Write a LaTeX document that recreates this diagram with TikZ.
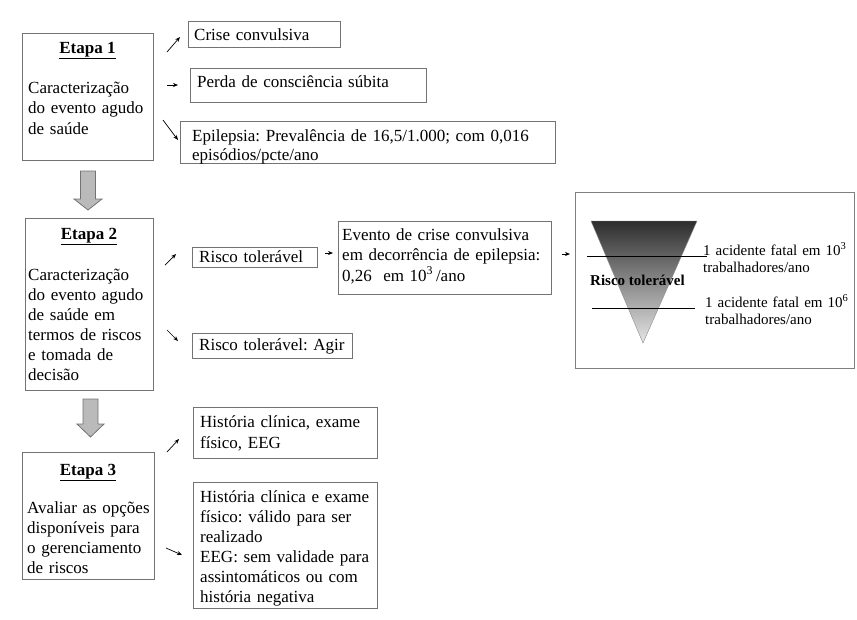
\documentclass[tikz,border=0pt]{standalone}
\usepackage{fontspec}
\setmainfont{Liberation Serif}
\usetikzlibrary{arrows.meta}
\frenchspacing
\tikzset{
  bx/.style={draw=black!55, line width=0.8pt, inner sep=0pt, anchor=north west, fill=white},
  txt/.style={anchor=base west, inner sep=0pt, align=left, text width=#1,
    font=\fontsize{17}{20.3}\selectfont},
  ttl/.style={anchor=base, inner sep=0pt, font=\fontsize{17}{20}\selectfont\bfseries},
  small/.style={anchor=base west, inner sep=0pt, align=left, text width=150pt,
    font=\fontsize{15}{17}\selectfont},
  sarr/.style={line width=0.7pt, -{Stealth[length=5pt,width=4pt]}},
  blk/.style={draw=black!55, fill=black!27, line width=0.8pt},
}
\begin{document}
\begin{tikzpicture}[x=1pt,y=-1pt]
\useasboundingbox (0,0) rectangle (857,619);
% ---------- Etapa 1 ----------
\node[bx, minimum width=131pt, minimum height=127pt] (e1) at (22,33) {};
\node[ttl] (e1h) at (87.5,53) {\underline{Etapa 1}};
\node[txt=125pt, font=\fontsize{17}{20.5}\selectfont] (e1t) at (28,93) {Caracterização\\do evento agudo\\de saúde};
\node[bx, minimum width=152pt, minimum height=26pt] (crise) at (188,21) {};
\node[txt=150pt] (crisetx) at (194,40) {Crise convulsiva};
\node[bx, minimum width=236pt, minimum height=34pt] (perda) at (190,68) {};
\node[txt=230pt] (perdatx) at (197,87) {Perda de consciência súbita};
\node[bx, minimum width=375pt, minimum height=42pt] (epil) at (180,121) {};
\node[txt=370pt, font=\fontsize{17}{19.5}\selectfont] (epiltx) at (192,141) {Epilepsia: Prevalência de 16,5/1.000; com 0,016\\episódios/pcte/ano};
\coordinate (c1a) at (167,52); \coordinate (c1b) at (180,37);
\coordinate (c2a) at (167,85); \coordinate (c2b) at (178,85);
\coordinate (c3a) at (163,120); \coordinate (c3b) at (178,140);
\draw[sarr] (c1a) -- (c1b);
\draw[sarr] (c2a) -- (c2b);
\draw[sarr] (c3a) -- (c3b);
% block arrow 1
\filldraw[blk] (80.5,171) -- (95.5,171) -- (95.5,199) -- (102,199) -- (88,210) -- (74,199) -- (80.5,199) -- cycle;
% ---------- Etapa 2 ----------
\node[bx, minimum width=128pt, minimum height=172pt] (e2) at (25,218) {};
\node[ttl] (e2h) at (89,239) {\underline{Etapa 2}};
\node[txt=125pt, font=\fontsize{17}{20}\selectfont] (e2t) at (28,280) {Caracterização\\do evento agudo\\de saúde em\\termos de riscos\\e tomada de\\decisão};
\node[bx, minimum width=125pt, minimum height=20pt] (risco) at (192,247) {};
\node[txt=120pt] (riscotx) at (199,262) {Risco tolerável};
\node[bx, minimum width=160pt, minimum height=25pt] (agir) at (192,333) {};
\node[txt=155pt] (agirtx) at (199,350) {Risco tolerável: Agir};
\node[bx, minimum width=213pt, minimum height=73pt] (evento) at (338,221) {};
\node[txt=210pt, font=\fontsize{17}{20.5}\selectfont] (eventotx) at (342,240) {Evento de crise convulsiva\\em decorrência de epilepsia:\\0,26\ \ em 10\textsuperscript{3}\,/ano};
\coordinate (c4a) at (165,265); \coordinate (c4b) at (176,254);
\coordinate (c5a) at (167,330); \coordinate (c5b) at (178,341);
\coordinate (c6a) at (325,253); \coordinate (c6b) at (333,253);
\coordinate (c7a) at (562,254); \coordinate (c7b) at (570,254);
\draw[sarr] (c4a) -- (c4b);
\draw[sarr] (c5a) -- (c5b);
\draw[sarr] (c6a) -- (c6b);
\draw[sarr] (c7a) -- (c7b);
% big risk box
\node[bx, minimum width=279pt, minimum height=176pt, draw=black!50] (big) at (575,192) {};
\shade[top color=black!82, bottom color=black!10] (591,221) -- (697,221) -- (643,343) -- cycle;
\draw[black!45, line width=0.4pt] (591,221) -- (697,221) -- (643,343) -- cycle;
\coordinate (l1a) at (587,256); \coordinate (l1b) at (707,256);
\coordinate (l2a) at (592,308); \coordinate (l2b) at (695,308);
\draw[line width=0.8pt] (l1a) -- (l1b);
\draw[line width=0.8pt] (l2a) -- (l2b);
\node[anchor=base west, inner sep=0pt, font=\fontsize{15}{17}\selectfont\bfseries] (rt) at (590,285) {Risco tolerável};
\node[small] (t1) at (703,255) {1 acidente fatal em 10\textsuperscript{3}\\trabalhadores/ano};
\node[small] (t2) at (705,307) {1 acidente fatal em 10\textsuperscript{6}\\trabalhadores/ano};
% block arrow 2
\filldraw[blk] (83,399) -- (98,399) -- (98,424) -- (104,424) -- (90.5,437) -- (77,424) -- (83,424) -- cycle;
% ---------- Etapa 3 ----------
\node[bx, minimum width=132pt, minimum height=127pt] (e3) at (22,452) {};
\node[ttl] (e3h) at (88,475) {\underline{Etapa 3}};
\node[txt=127pt, font=\fontsize{17}{20.3}\selectfont] (e3t) at (27,513) {Avaliar as opções\\disponíveis para\\o gerenciamento\\de riscos};
\node[bx, minimum width=184pt, minimum height=51pt] (h1) at (193,407) {};
\node[txt=180pt, font=\fontsize{17}{21}\selectfont] (h1t) at (200,427) {História clínica, exame\\físico, EEG};
\node[bx, minimum width=184pt, minimum height=126pt] (h2) at (193,482) {};
\node[txt=180pt, font=\fontsize{17}{20}\selectfont] (h2t) at (200,502) {História clínica e exame\\físico: válido para ser\\realizado\\EEG: sem validade para\\assintomáticos ou com\\história negativa};
\coordinate (c8a) at (167,452); \coordinate (c8b) at (179,439);
\coordinate (c9a) at (166,548); \coordinate (c9b) at (182,555);
\draw[sarr] (c8a) -- (c8b);
\draw[sarr] (c9a) -- (c9b);
\end{tikzpicture}
\end{document}
